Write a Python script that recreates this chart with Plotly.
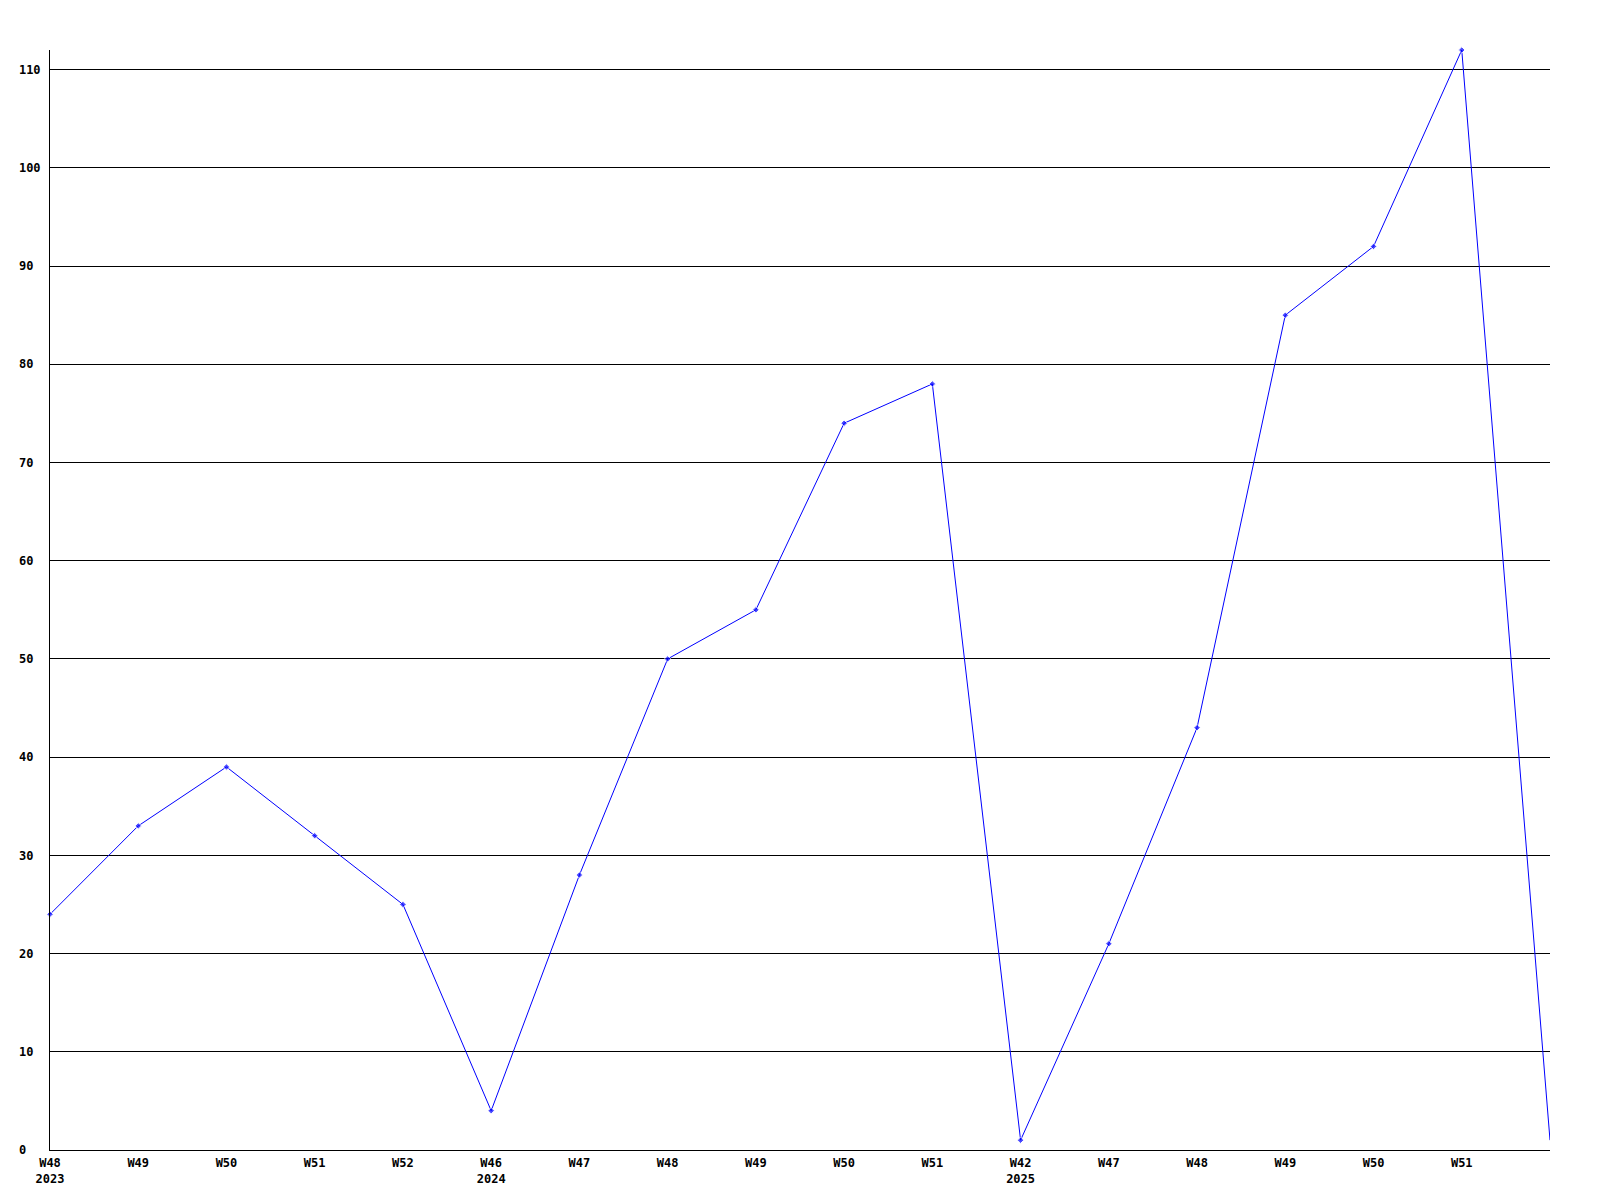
import plotly.graph_objects as go

# semanas (la última sin etiqueta)
WEEK_LABELS = ["W48<br>2023", "W49", "W50", "W51", "W52",
               "W46<br>2024", "W47", "W48", "W49", "W50", "W51",
               "W42<br>2025", "W47", "W48", "W49", "W50", "W51", ""]
VALUES = [24, 33, 39, 32, 25, 4, 28, 50, 55, 74, 78, 1, 21, 43, 85, 92, 112, 1]
Y_TICKS = [0, 10, 20, 30, 40, 50, 60, 70, 80, 90, 100, 110]

x = list(range(len(VALUES)))
marker_sizes = [5] * (len(VALUES) - 1) + [0]
# etiquetas del eje Y alineadas a la izquierda (fuente monoespaciada)
y_ticktext = [str(v).ljust(3, "\u00a0") for v in Y_TICKS]

fig = go.Figure()
fig.add_trace(go.Scatter(
    x=x,
    y=VALUES,
    mode="lines+markers",
    line=dict(color="#0000ff", width=1),
    marker=dict(symbol="diamond", size=marker_sizes, color="#0000ff"),
    cliponaxis=False,
    hoverinfo="skip",
))

tick_font = dict(family="DejaVu Sans Mono", size=12, color="black", weight="bold")

# la página añade 8px de margen, se compensa aquí
fig.update_layout(
    width=1592,
    height=1192,
    margin=dict(l=42, r=50, t=42, b=50),
    paper_bgcolor="white",
    plot_bgcolor="white",
    showlegend=False,
    xaxis=dict(
        range=[0, len(VALUES) - 1],
        tickmode="array",
        tickvals=x[:-1],
        ticktext=WEEK_LABELS[:-1],
        showgrid=False,
        zeroline=False,
        showline=True,
        linecolor="black",
        linewidth=1,
        ticks="",
        ticklabelstandoff=2,
        tickfont=tick_font,
        automargin=False,
    ),
    yaxis=dict(
        range=[0, 112],
        tickmode="array",
        tickvals=Y_TICKS,
        ticktext=y_ticktext,
        showgrid=True,
        gridcolor="black",
        gridwidth=1,
        zeroline=False,
        showline=True,
        linecolor="black",
        linewidth=1,
        ticks="",
        ticklabelstandoff=6,
        tickfont=tick_font,
        automargin=False,
    ),
)

fig.write_html("out.html")
